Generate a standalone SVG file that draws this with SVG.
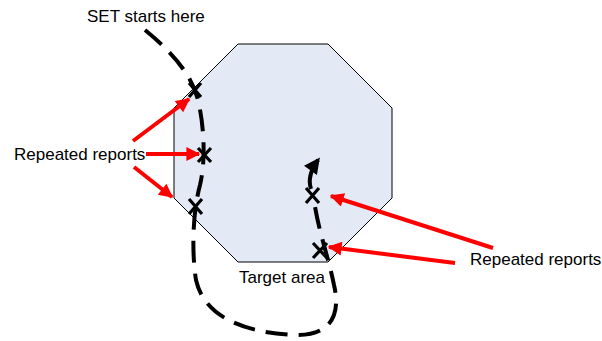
<svg xmlns="http://www.w3.org/2000/svg" width="602" height="341" viewBox="0 0 602 341">
<defs>
<style>
.lbl{font-family:"Liberation Sans",Arial,sans-serif;font-size:17px;fill:#000}
.red{stroke:#FF0000;stroke-width:4;fill:none}
.x{stroke:#000;stroke-width:3.2;fill:none}
.path{stroke:#000;stroke-width:4;fill:none;stroke-linecap:butt}
</style>
<marker id="ra" viewBox="0 0 10 10" refX="9" refY="5" markerWidth="4" markerHeight="3.5" orient="auto" markerUnits="strokeWidth">
<path d="M0,0 L10,5 L0,10 z" fill="#FF0000"/>
</marker>
<marker id="ba" viewBox="0 0 10 10" refX="8" refY="5" markerWidth="4.5" markerHeight="4" orient="auto" markerUnits="strokeWidth">
<path d="M0,0 L10,5 L0,10 z" fill="#000"/>
</marker>
</defs>
<rect width="602" height="341" fill="#fff"/>
<g id="target">
<polygon points="238,44 328,44 392,108 392,198 328,262 238,262 174,198 174,108" fill="#E4EAF5" stroke="#000" stroke-width="1"/>
<text class="lbl" x="239" y="283" font-size="16">Target area</text>
</g>
<g id="set-label">
<text class="lbl" x="87" y="22">SET starts here</text>
</g>
<g id="connectors">
<path class="path" stroke-dasharray="22,11" d="M145,30 C172,52 192,75 198,100 C204,125 206,160 200,185 C192,215 192,255 196,280 C205,320 250,333 295,335 C335,336 340,310 334,285 C328,255 318,230 314,200"/>
<path class="path" d="M311,189 C308,180 310,171 318,160" marker-end="url(#ba)"/>
<path class="red" d="M133,141 L189,99" marker-end="url(#ra)"/>
<path class="red" d="M146,154 L199,154" marker-end="url(#ra)"/>
<path class="red" d="M134,167 L172,197" marker-end="url(#ra)"/>
<path class="red" d="M493,248 L331,196" marker-end="url(#ra)"/>
<path class="red" d="M455,263 L329,247" marker-end="url(#ra)"/>
</g>
<g id="marks">
<path class="x" d="M189,83 L201,97 M201,83 L189,97"/>
<path class="x" d="M198,148 L211,162 M211,148 L198,162"/>
<path class="x" d="M189,199 L202,214 M202,199 L189,214"/>
<path class="x" d="M306,188 L319,203 M319,188 L306,203"/>
<path class="x" d="M313,243 L327,258 M327,243 L313,258"/>
</g>
<g id="reports-left"><text class="lbl" x="14" y="160">Repeated reports</text></g>
<g id="reports-right"><text class="lbl" x="470" y="265">Repeated reports</text></g>
</svg>
